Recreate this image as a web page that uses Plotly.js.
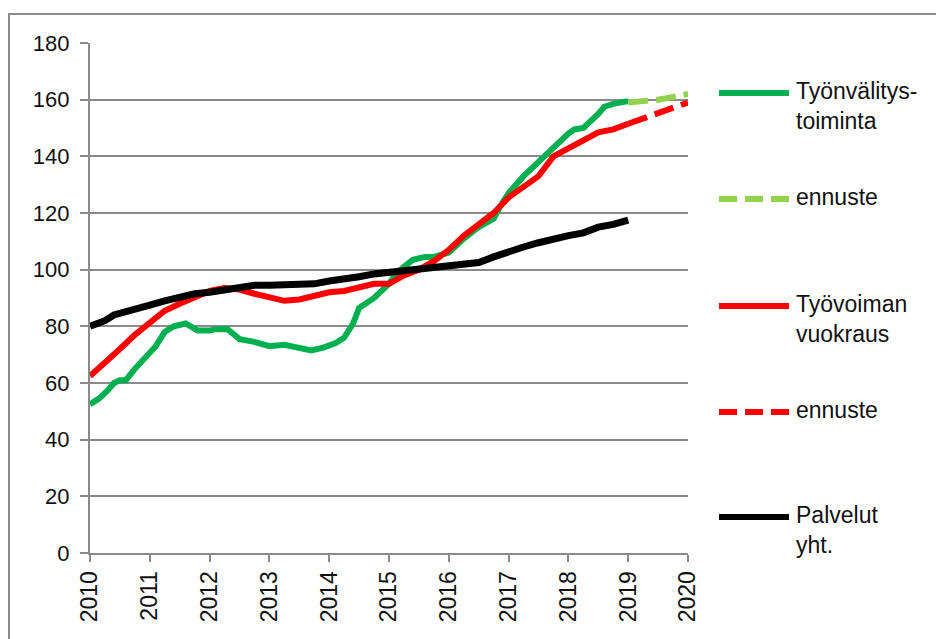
<!DOCTYPE html>
<html>
<head>
<meta charset="utf-8">
<script src="https://cdn.plot.ly/plotly-3.0.1.min.js"></script>
<style>
html,body{margin:0;padding:0;background:#fff;overflow:hidden;}
#chart{width:936px;height:639px;}
</style>
</head>
<body>
<div id="chart"></div>
<script>
// Työnvälitystoiminta (actual)
const greenX = [2010.0,2010.15,2010.3,2010.4,2010.5,2010.6,2010.75,2010.9,2011.0,2011.1,2011.25,2011.4,2011.6,2011.7,2011.8,2012.0,2012.1,2012.3,2012.4,2012.5,2012.75,2013.0,2013.25,2013.5,2013.7,2013.9,2014.0,2014.1,2014.25,2014.4,2014.5,2014.6,2014.75,2015.0,2015.1,2015.25,2015.4,2015.6,2015.75,2016.0,2016.25,2016.5,2016.75,2016.85,2017.0,2017.25,2017.5,2017.6,2017.75,2018.0,2018.1,2018.25,2018.5,2018.6,2018.75,2019.0];
const greenY = [52.5,54.5,57.5,60,61,61,65,68.5,71,73,78,80,81,80,78.5,78.5,79,79,77,75.5,74.5,73,73.5,72.5,71.5,72.5,73,74,76,81,86.5,88,90,95,98,101,103.5,104.5,104.5,106,111,115,118,122,127,133,138,140,143.5,148,149.5,150,155,157.5,158.5,159.5];
// ennuste (Työnvälitystoiminta)
const greenFcX = [2019.0,2019.5,2020.0];
const greenFcY = [159,160,162];
// Työvoiman vuokraus (actual)
const redX = [2010.0,2010.25,2010.5,2010.75,2011.0,2011.25,2011.5,2011.75,2012.0,2012.25,2012.5,2012.75,2013.0,2013.25,2013.5,2013.75,2014.0,2014.25,2014.5,2014.75,2015.0,2015.25,2015.5,2015.75,2016.0,2016.25,2016.5,2016.75,2017.0,2017.25,2017.5,2017.75,2018.0,2018.25,2018.5,2018.75,2019.0];
const redY = [62.5,67,72,77,81.5,85.5,88,90.5,92.5,93.5,93,91.5,90,89,89.5,91,92,92.5,94,95,95,98,100,103,107,112,116,120,125.5,129,133,140,143,146,148.5,149.5,151.5];
// ennuste (Työvoiman vuokraus)
const redFcX = [2019.0,2019.5,2020.0];
const redFcY = [151.5,155,159];
// Palvelut yht.
const blackX = [2010.0,2010.25,2010.4,2010.5,2010.75,2011.0,2011.25,2011.5,2011.75,2012.0,2012.25,2012.5,2012.75,2013.0,2013.25,2013.5,2013.75,2014.0,2014.25,2014.5,2014.75,2015.0,2015.25,2015.5,2015.75,2016.0,2016.25,2016.5,2016.75,2017.0,2017.25,2017.5,2017.75,2018.0,2018.25,2018.5,2018.75,2019.0];
const blackY = [80,82,84,84.5,86,87.5,89,90.5,91.5,92,93,93.5,94.5,94.5,94.5,94.5,95,96,96.5,97.5,98.5,99,99.5,100,100.5,101,102,102.5,104.5,106.5,108,109.5,111,112,113,115,116,117.5];

const legendLabels = ["Työnvälitys-<br>toiminta","ennuste","Työvoiman<br>vuokraus","ennuste","Palvelut<br>yht."];
const legendColors = ["#00B050","#92D050","#FF0000","#FF0000","#000000"];
const legendDash = ["solid","18px,8px","solid","18px,8px","solid"];
const yTicks = [0,20,40,60,80,100,120,140,160,180];
const xTicks = [2010,2011,2012,2013,2014,2015,2016,2017,2018,2019,2020];

const FONT = "Liberation Sans, Arial, sans-serif";
const LW = 6;

const traces = [
  {x:greenX,y:greenY,mode:'lines',line:{color:legendColors[0],width:LW},name:'Työnvälitystoiminta'},
  {x:greenFcX,y:greenFcY,mode:'lines',line:{color:legendColors[1],width:LW,dash:'20px,8px'},name:'ennuste'},
  {x:redX,y:redY,mode:'lines',line:{color:legendColors[2],width:LW},name:'Työvoiman vuokraus'},
  {x:redFcX,y:redFcY,mode:'lines',line:{color:legendColors[3],width:LW,dash:'20px,8px'},name:'ennuste'},
  {x:blackX,y:blackY,mode:'lines',line:{color:legendColors[4],width:LW+1},name:'Palvelut yht.'}
];

// legend drawn as shapes + annotations (pixel layout -> paper coords)
const L=90, T=43, W=598, H=510;
const px2x = p => (p-L)/W;
const py2y = p => (T+H-p)/H;
const legendY = [93,199,306,412,517];
const shapes = [
  {type:'rect',xref:'paper',yref:'paper',x0:px2x(9),x1:px2x(1000),y0:py2y(700),y1:py2y(14),line:{color:'#8a8a8a',width:2},fillcolor:'rgba(0,0,0,0)',layer:'below'}
];
const annotations = [];
legendLabels.forEach((lab,i)=>{
  shapes.push({type:'line',xref:'paper',yref:'paper',x0:px2x(719),x1:px2x(789),y0:py2y(legendY[i]),y1:py2y(legendY[i]),
    line:{color:legendColors[i],width:LW,dash:legendDash[i]}});
  annotations.push({xref:'paper',yref:'paper',x:px2x(794),y:py2y(legendY[i]-17),xanchor:'left',yanchor:'top',align:'left',
    text:lab,showarrow:false,font:{family:FONT,size:23,color:'#111'}});
});

const layout = {
  width:936,height:639,
  margin:{l:L,r:936-L-W,t:T,b:639-T-H,pad:0},
  paper_bgcolor:'#fff',plot_bgcolor:'#fff',
  showlegend:false,
  xaxis:{range:[2010,2020],tickvals:xTicks,ticktext:xTicks.map(String),tickangle:-90,
    showgrid:false,zeroline:false,showline:true,linecolor:'#8a8a8a',linewidth:2,
    ticks:'outside',ticklen:7,tickwidth:2,tickcolor:'#8a8a8a',
    tickfont:{family:FONT,size:23,color:'#111'}},
  yaxis:{range:[0,180],tickvals:yTicks,ticktext:yTicks.map(v=>v+'\u00a0'),showgrid:true,gridcolor:'#8a8a8a',gridwidth:2,
    zeroline:false,showline:true,linecolor:'#8a8a8a',linewidth:2,
    ticks:'outside',ticklen:8,tickwidth:2,tickcolor:'#8a8a8a',
    tickfont:{family:FONT,size:22,color:'#111'}},
  shapes:shapes,
  annotations:annotations
};

Plotly.newPlot('chart',traces,layout,{staticPlot:true,displayModeBar:false});
</script>
</body>
</html>
